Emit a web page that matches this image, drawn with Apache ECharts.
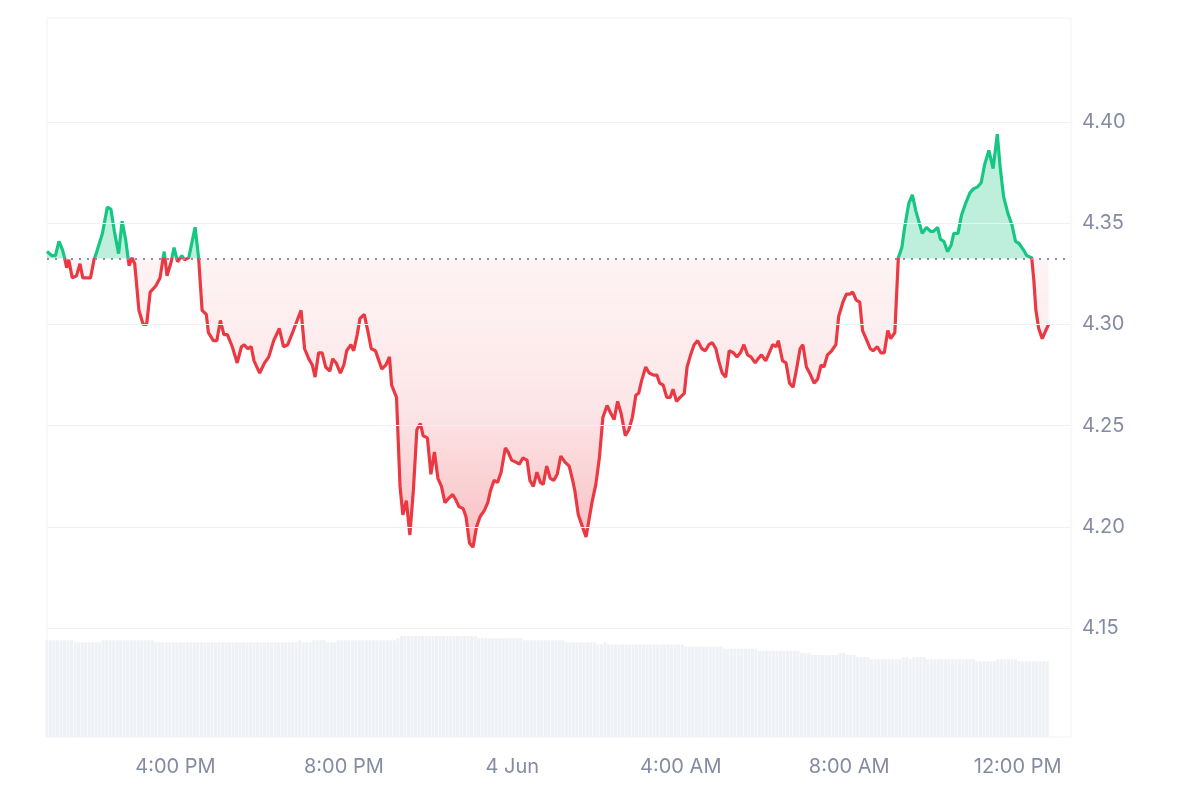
<!DOCTYPE html>
<html><head><meta charset="utf-8">
<script src="https://cdn.jsdelivr.net/npm/echarts@6/dist/echarts.min.js"></script>
<style>html,body{margin:0;padding:0;background:#fff}#c{width:1200px;height:800px}</style>
</head><body><div id="c"></div>
<script>
const BASE = 4.3326;
const Y_TICKS = [4.15, 4.20, 4.25, 4.30, 4.35, 4.40];
const X_TICKS = ['3 16:00', '3 20:00', '4 00:00', '4 04:00', '4 08:00', '4 12:00'];
const AXIS_START = '3 12:57';
const AXIS_END = '4 13:16';

const PRICE_TIMES = [
'3 12:57','3 13:04','3 13:09','3 13:14','3 13:19','3 13:22','3 13:25','3 13:28','3 13:33','3 13:39','3 13:44','3 13:48','3 13:59','3 14:04','3 14:08','3 14:16','3 14:23','3 14:28','3 14:33','3 14:39','3 14:44','3 14:49','3 14:54','3 14:58','3 15:02','3 15:08','3 15:14','3 15:19','3 15:24','3 15:32','3 15:38','3 15:44','3 15:48','3 15:54','3 15:58','3 16:03','3 16:09','3 16:13','3 16:19','3 16:28','3 16:33','3 16:38','3 16:44','3 16:47','3 16:54','3 16:59','3 17:04','3 17:09','3 17:14','3 17:21','3 17:28','3 17:34','3 17:38','3 17:43','3 17:48','3 17:52','3 18:00','3 18:07','3 18:13','3 18:20','3 18:28','3 18:34','3 18:40','3 18:48','3 18:59','3 19:04','3 19:10','3 19:15','3 19:19','3 19:24','3 19:29','3 19:34','3 19:40','3 19:44','3 19:49','3 19:55','3 20:00','3 20:04','3 20:10','3 20:14','3 20:19','3 20:23','3 20:29','3 20:34','3 20:39','3 20:45','3 20:49','3 20:54','3 21:00','3 21:05','3 21:08','3 21:15','3 21:20','3 21:24','3 21:29','3 21:34','3 21:39','3 21:44','3 21:49','3 21:53','3 21:59','3 22:04','3 22:09','3 22:14','3 22:19','3 22:24','3 22:29','3 22:35','3 22:40','3 22:44','3 22:50','3 22:54','3 22:59','3 23:04','3 23:09','3 23:14','3 23:20','3 23:25','3 23:29','3 23:34','3 23:39','3 23:44','3 23:50','3 23:54','3 23:59',
'4 00:05','4 00:10','4 00:15','4 00:21','4 00:25','4 00:30','4 00:35','4 00:40','4 00:44','4 00:49','4 00:54','4 00:59','4 01:04','4 01:09','4 01:15','4 01:21','4 01:26','4 01:29','4 01:34','4 01:39','4 01:45','4 01:49','4 01:54','4 01:59','4 02:04','4 02:09','4 02:15','4 02:19','4 02:25','4 02:30','4 02:35','4 02:41','4 02:46','4 02:51','4 02:56','4 03:00','4 03:04','4 03:10','4 03:15','4 03:21','4 03:26','4 03:30','4 03:35','4 03:40','4 03:45','4 03:49','4 03:54','4 03:59','4 04:05','4 04:09','4 04:14','4 04:19','4 04:24','4 04:30','4 04:35','4 04:40','4 04:45','4 04:50','4 04:54','4 04:59','4 05:04','4 05:09','4 05:15','4 05:20','4 05:25','4 05:30','4 05:35','4 05:40','4 05:46','4 05:50','4 05:55','4 06:01','4 06:06','4 06:11','4 06:16','4 06:19','4 06:25','4 06:30','4 06:35','4 06:40','4 06:45','4 06:50','4 06:54','4 06:59','4 07:05','4 07:10','4 07:15','4 07:20','4 07:24','4 07:29','4 07:35','4 07:41','4 07:45','4 07:51','4 07:56','4 08:01','4 08:05','4 08:10','4 08:15','4 08:19','4 08:24','4 08:30','4 08:34','4 08:40','4 08:45','4 08:50','4 08:55','4 08:59','4 09:05','4 09:10','4 09:15','4 09:19','4 09:25','4 09:30','4 09:35','4 09:40','4 09:44','4 09:50','4 09:56','4 10:00','4 10:06','4 10:10','4 10:15','4 10:20','4 10:25','4 10:29','4 10:35','4 10:40','4 10:46','4 10:52','4 10:57','4 11:03','4 11:08','4 11:13','4 11:19','4 11:25','4 11:31','4 11:35','4 11:40','4 11:46','4 11:52','4 11:57','4 12:02','4 12:08','4 12:13','4 12:20','4 12:23','4 12:26','4 12:30','4 12:35','4 12:40','4 12:44'
];
const PRICE_VALUES = [
4.336,4.334,4.334,4.341,4.337,4.333,4.328,4.332,4.323,4.324,4.330,4.323,4.323,4.332,4.336,4.345,4.358,4.357,4.346,4.335,4.351,4.342,4.329,4.333,4.330,4.307,4.300,4.300,4.316,4.319,4.323,4.336,4.324,4.331,4.338,4.331,4.334,4.332,4.333,4.348,4.333,4.307,4.305,4.296,4.292,4.292,4.302,4.295,4.295,4.289,4.281,4.289,4.290,4.288,4.289,4.282,4.276,4.281,4.284,4.292,4.298,4.289,4.290,4.297,4.307,4.288,4.283,4.280,4.274,4.286,4.286,4.279,4.277,4.283,4.281,4.276,4.280,4.287,4.290,4.287,4.295,4.303,4.305,4.297,4.288,4.287,4.283,4.278,4.280,4.284,4.270,4.264,4.220,4.206,4.213,4.196,4.218,4.248,4.251,4.245,4.244,4.226,4.237,4.224,4.220,4.212,4.214,4.216,4.213,4.210,4.209,4.205,4.192,4.190,4.200,4.205,4.208,4.212,4.218,4.223,4.222,4.227,4.239,4.237,4.233,
4.232,4.231,4.234,4.233,4.223,4.220,4.227,4.222,4.221,4.230,4.224,4.223,4.226,4.235,4.232,4.230,4.223,4.218,4.206,4.201,4.195,4.203,4.213,4.221,4.234,4.254,4.260,4.257,4.253,4.262,4.256,4.245,4.248,4.254,4.265,4.266,4.272,4.279,4.276,4.275,4.275,4.271,4.270,4.264,4.264,4.268,4.262,4.264,4.266,4.279,4.285,4.290,4.292,4.288,4.287,4.290,4.291,4.288,4.282,4.276,4.274,4.287,4.286,4.284,4.286,4.290,4.285,4.284,4.281,4.283,4.285,4.282,4.286,4.290,4.289,4.292,4.282,4.281,4.271,4.269,4.278,4.288,4.290,4.279,4.275,4.271,4.273,4.280,4.279,4.285,4.287,4.290,4.304,4.311,4.315,4.315,4.316,4.312,4.311,4.297,4.293,4.288,4.287,4.289,4.286,4.286,4.297,4.293,4.296,4.333,4.338,4.348,4.360,4.364,4.356,4.350,4.345,4.348,4.346,4.346,4.348,4.342,4.341,4.336,4.339,4.345,4.345,4.354,4.360,4.365,4.367,4.368,4.370,4.379,4.386,4.377,4.394,4.378,4.363,4.355,4.349,4.341,4.340,4.337,4.334,4.333,4.322,4.307,4.298,4.293,4.297,4.300
];

// 5-minute bars starting at VOLUME_START
const VOLUME_START = '3 12:57';
const VOLUME = [
46,46,46,46,46,46,46,46, 45,45,45,45,45,45,45,45,
46,46,46,46,46,46,46,46,46,46,46,46,46,46,46,
45,45,45,45,45,45,45,45,45,45,45,45,45,45,45,45,45,45,45,45,45,45,45,45,45,45,45,45,45,45,45,45,45,45,45,45,45,45,45,45,45,
46, 45,45,45, 46,46,46,46, 45,45,45,
46,46,46,46,46,46,46,46,46,46,46,46,46,46,46,46,46,
47,
48,48,48,48,48,48,48,48,48,48,48,48,48,48,48,48,48,48,48,48,48,48,
47,47,47,47,47,47,47,47,47,47,47,47,47,
46,46,46,46,46,46,46,46,46,46,46,46,
45,45,45,45,45,45,45,45,45,
44,44, 45,
44,44,44,44,44,44,44,44,44,44,44,44,44,44,44,44,44,44,44,44,44,44,
43,43,43,43,43,43,43,43,43,43,43,
42,42,42,42,42,42,42,42,42,42,
41,41,41,41,41,41,41,41,41,41,41,41,
40,40,40,
39,39,39,39,39,39,39,39,
40,40, 39,39,39,
38,38,38,38,
37,37,37,37,37,37,37,37,37,
38,38, 37, 38,38,38,38,
37,37,37,37,37,37,37,37,37,37,37,37,37,37,
36,36,36,36,36,36,
37,37,37,37,37,37,
36,36,36,36,36,36,36,36,36
];

function t(s) {
  const parts = s.split(' ');
  const hm = parts[1].split(':').map(Number);
  return Date.UTC(2024, 5, +parts[0], hm[0], hm[1]);
}

const priceTimes = PRICE_TIMES.map(t);
const lineData = priceTimes.map((x, i) => [x, PRICE_VALUES[i]]);
const upData = priceTimes.map((x, i) => [x, Math.max(PRICE_VALUES[i], BASE)]);
const downData = priceTimes.map((x, i) => [x, Math.min(PRICE_VALUES[i], BASE)]);
const v0 = t(VOLUME_START);
const volData = VOLUME.map((v, k) => [v0 + k * 5 * 60000, v]);

const GRAY = '#858ca2';
const GREEN = '#16c784';
const RED = '#ea3943';
const chart = echarts.init(document.getElementById('c'));
chart.setOption({
  animation: false,
  grid: { left: 47, right: 129, top: 18, bottom: 63, show: true, borderColor: '#eff2f5', borderWidth: 1, backgroundColor: 'transparent' },
  xAxis: {
    type: 'value',
    min: t(AXIS_START), max: t(AXIS_END),
    axisLine: { show: false }, axisTick: { show: false }, splitLine: { show: false },
    axisLabel: {
      customValues: X_TICKS.map(t),
      color: GRAY, fontSize: 20, fontFamily: 'Inter', margin: 20,
      formatter: function (v) {
        const d = new Date(v);
        const h = d.getUTCHours();
        if (h === 0) return d.getUTCDate() + ' Jun';
        return (h % 12 || 12) + ':00 ' + (h < 12 ? 'AM' : 'PM');
      }
    }
  },
  yAxis: [{
    type: 'value', position: 'right',
    min: 4.0962, max: 4.4514,
    axisLine: { show: false }, axisTick: { show: false }, splitLine: { show: false },
    axisLabel: { customValues: Y_TICKS, color: GRAY, fontSize: 20, fontFamily: 'Inter', margin: 11,
      formatter: v => v.toFixed(2) }
  }, {
    type: 'value', min: 0, max: 342, show: false
  }],
  series: [{
    type: 'bar', yAxisIndex: 1, data: volData, barWidth: 3,
    itemStyle: { color: '#eef1f5' }, z: 1, silent: true
  }, {
    type: 'line', data: upData, showSymbol: false, symbol: 'none', z: 2, silent: true,
    lineStyle: { width: 0, opacity: 0 },
    areaStyle: { origin: BASE, color: 'rgba(22,199,132,0.28)', opacity: 1 }
  }, {
    type: 'line', data: downData, showSymbol: false, symbol: 'none', z: 2, silent: true,
    lineStyle: { width: 0, opacity: 0 },
    areaStyle: { origin: BASE, opacity: 1,
      color: new echarts.graphic.LinearGradient(0, 0, 0, 1, [
        { offset: 0, color: 'rgba(234,57,67,0.06)' },
        { offset: 0.5, color: 'rgba(234,57,67,0.12)' },
        { offset: 1, color: 'rgba(234,57,67,0.32)' }
      ]) },
    markLine: {
      silent: true, symbol: 'none', label: { show: false }, precision: 4,
      lineStyle: { color: '#eff2f5', width: 1, type: 'solid' },
      data: Y_TICKS.map(v => ({ yAxis: v }))
    }
  }, {
    type: 'line', data: lineData, showSymbol: false, symbol: 'none', z: 3,
    lineStyle: { width: 3.2, color: RED },
    markLine: {
      silent: true, symbol: 'none', label: { show: false }, precision: 4,
      lineStyle: { color: '#8a91a5', width: 2, type: [2, 6], opacity: 1 },
      data: [{ yAxis: BASE }]
    }
  }]
});

// colour the price line green above the baseline and red below it
const yb = chart.convertToPixel({ yAxisIndex: 0 }, BASE);
const H = 800, f = yb / H;
chart.setOption({
  series: [{}, {}, {}, {
    lineStyle: {
      color: new echarts.graphic.LinearGradient(0, 0, 0, H, [
        { offset: 0, color: GREEN }, { offset: f, color: GREEN },
        { offset: f, color: RED }, { offset: 1, color: RED }
      ], true)
    }
  }]
});
</script>
</body></html>
